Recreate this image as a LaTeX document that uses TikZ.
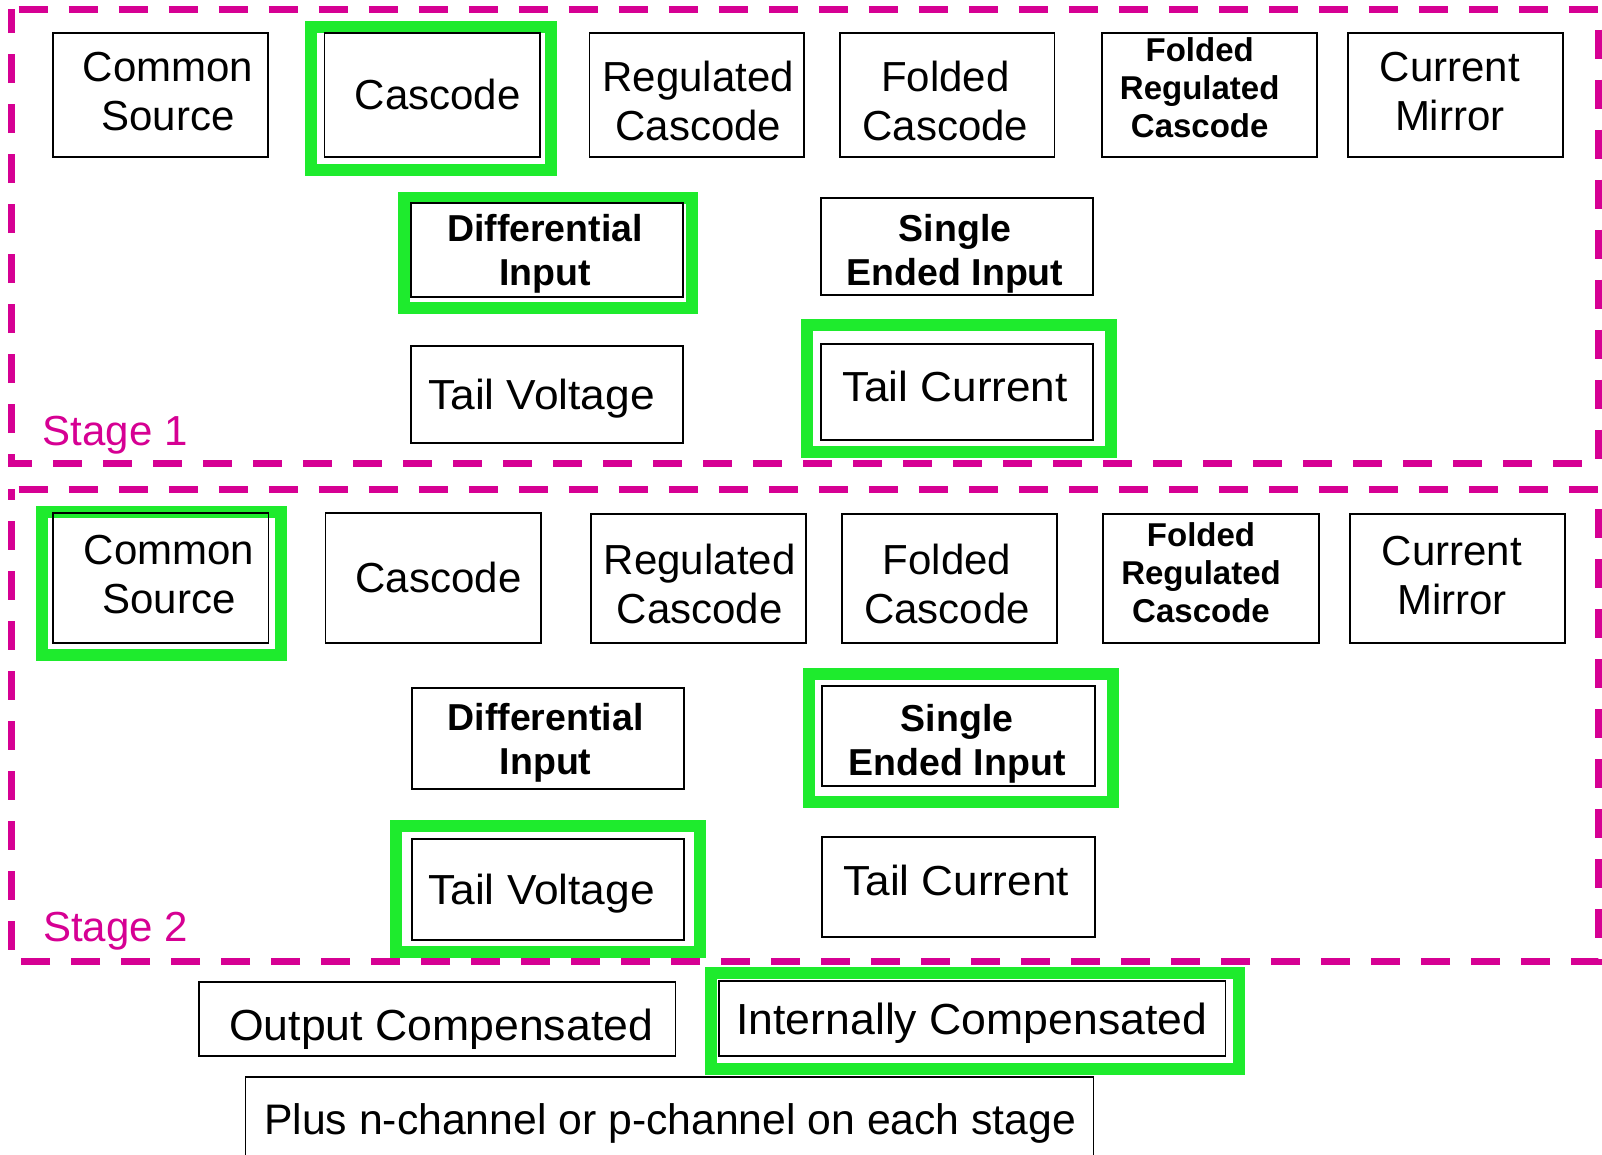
\documentclass[tikz,border=0pt]{standalone}
\usepackage{fontspec}
\setmainfont{Liberation Sans}
\definecolor{stagemag}{RGB}{214,0,147}
\definecolor{pickgreen}{RGB}{30,235,45}

\tikzset{
  optbox/.style={draw=black, line width=1.8pt, inner sep=0pt},
  regtxt/.style={align=center, inner sep=0pt, font=\fontsize{42}{49}\selectfont},
  widetxt/.style={align=center, inner sep=0pt, font=\fontsize{43.5}{50}\selectfont},
  notetxt/.style={align=center, inner sep=0pt, font=\fontsize{42.7}{50}\selectfont},
  boldtxt/.style={align=center, inner sep=0pt, font=\fontsize{37.5}{44}\selectfont\bfseries},
  smalltxt/.style={align=center, inner sep=0pt, font=\fontsize{33}{38}\selectfont\bfseries},
  stagebox/.style={draw=stagemag, line width=7pt, dash pattern=on 29pt off 21pt, dash phase=43pt},
  stagelbl/.style={text=stagemag, anchor=base west, inner sep=0pt, font=\fontsize{42}{48}\selectfont},
  pick/.style={draw=pickgreen, line width=12pt},
}
% slightly widened single-line labels
\newcommand\wideline[2]{\scalebox{#1}[1]{#2}}

\begin{document}
\begin{tikzpicture}[x=1pt, y=-1pt]
\useasboundingbox (0,0) rectangle (1602,1154);

% chosen options
\draw[pick] (311,26.7) rectangle (551,169.7);
\draw[pick] (404,197.5) rectangle (692.3,308.3);
\draw[pick] (807.3,325.3) rectangle (1110.7,452.3);
\draw[pick] (41.7,511.7) rectangle (281,655.3);
\draw[pick] (809.3,674.3) rectangle (1113.3,801.7);
\draw[pick] (396,826.3) rectangle (699.6,952);
\draw[pick] (711,973.3) rectangle (1239,1069);

% stage frames
\draw[stagebox] (11.5,9) -- (1598,9) -- (1598,463) -- (11.5,463) -- cycle;
\draw[stagebox] (11.5,489.3) -- (1598.5,489.3) -- (1598.5,961) -- (11.5,961) -- cycle;
\node[stagelbl] (lbl1) at (42.5,445) {Stage 1};
\node[stagelbl] (lbl2) at (43,941.7) {Stage 2};

% stage 1
\node[optbox, minimum width=215pt, minimum height=124pt] (s1cs) at (160.5,95) {};
\node[regtxt] (s1cs-t) at (168,91.7) {Common\\Source};
\node[optbox, minimum width=215.5pt, minimum height=124pt] (s1cc) at (432.3,95) {};
\node[regtxt] (s1cc-t) at (437.6,94) {Cascode};
\node[optbox, minimum width=214.5pt, minimum height=124pt] (s1rc) at (696.8,95) {};
\node[regtxt] (s1rc-t) at (698.2,100.5) {Regulated\\Cascode};
\node[optbox, minimum width=214.5pt, minimum height=124pt] (s1fc) at (947.3,95) {};
\node[regtxt] (s1fc-t) at (945.3,100.5) {Folded\\Cascode};
\node[optbox, minimum width=215pt, minimum height=124pt] (s1frc) at (1209.2,95) {};
\node[smalltxt] (s1frc-t) at (1199.7,87.5) {Folded\\Regulated\\Cascode};
\node[optbox, minimum width=215pt, minimum height=124pt] (s1cm) at (1455.3,95) {};
\node[regtxt] (s1cm-t) at (1449.8,92) {Current\\Mirror};

\node[optbox, minimum width=272.7pt, minimum height=94.3pt] (s1di) at (547,249.9) {};
\node[boldtxt] (s1di-t) at (545,254) {Differential\\Input};
\node[optbox, minimum width=272.6pt, minimum height=96.7pt] (s1se) at (957,246.7) {};
\node[boldtxt] (s1se-t) at (955,253.3) {Single\\Ended Input};

\node[optbox, minimum width=272.4pt, minimum height=96.7pt] (s1tv) at (546.8,394.3) {};
\node[regtxt] (s1tv-t) at (541.5,398.2) {\wideline{1.055}{Tail Voltage}};
\node[optbox, minimum width=272.6pt, minimum height=96.3pt] (s1tc) at (957,391.8) {};
\node[regtxt] (s1tc-t) at (955,386.2) {\wideline{1.05}{Tail Current}};

% stage 2
\node[optbox, minimum width=215.4pt, minimum height=129.7pt] (s2cs) at (160.7,578.2) {};
\node[regtxt] (s2cs-t) at (169,575) {Common\\Source};
\node[optbox, minimum width=215.3pt, minimum height=129.7pt] (s2cc) at (433.2,578.2) {};
\node[regtxt] (s2cc-t) at (438.5,577.5) {Cascode};
\node[optbox, minimum width=215.3pt, minimum height=129.3pt] (s2rc) at (698.3,578.7) {};
\node[regtxt] (s2rc-t) at (699.7,584.2) {Regulated\\Cascode};
\node[optbox, minimum width=215pt, minimum height=129.3pt] (s2fc) at (949.2,578.7) {};
\node[regtxt] (s2fc-t) at (947,584.2) {Folded\\Cascode};
\node[optbox, minimum width=215.4pt, minimum height=129.3pt] (s2frc) at (1211,578.7) {};
\node[smalltxt] (s2frc-t) at (1201,572.5) {Folded\\Regulated\\Cascode};
\node[optbox, minimum width=215.3pt, minimum height=129.3pt] (s2cm) at (1457.7,578.7) {};
\node[regtxt] (s2cm-t) at (1452,575.8) {Current\\Mirror};

\node[optbox, minimum width=272.5pt, minimum height=101pt] (s2di) at (548,738.8) {};
\node[boldtxt] (s2di-t) at (545.6,743.2) {Differential\\Input};
\node[optbox, minimum width=273.3pt, minimum height=100.3pt] (s2se) at (958.3,735.8) {};
\node[boldtxt] (s2se-t) at (957.2,743.7) {Single\\Ended Input};

\node[optbox, minimum width=272.3pt, minimum height=100.7pt] (s2tv) at (547.8,889.7) {};
\node[regtxt] (s2tv-t) at (541.6,894) {\wideline{1.055}{Tail Voltage}};
\node[optbox, minimum width=273.3pt, minimum height=100pt] (s2tc) at (958.3,887.3) {};
\node[regtxt] (s2tc-t) at (956.2,880.8) {\wideline{1.05}{Tail Current}};

% compensation and device type
\node[optbox, minimum width=476.4pt, minimum height=74pt] (oc) at (437.2,1018.7) {};
\node[widetxt] (oc-t) at (441.2,1029.5) {\wideline{1.025}{Output Compensated}};
\node[optbox, minimum width=506.4pt, minimum height=74.4pt] (ic) at (972.2,1018.5) {};
\node[widetxt] (ic-t) at (971.8,1022.8) {\wideline{1.025}{Internally Compensated}};
\node[optbox, minimum width=848.1pt, minimum height=93.3pt] (pn) at (669.5,1123.4) {};
\node[notetxt] (pn-t) at (670.2,1123.7) {Plus n-channel or p-channel on each stage};
\end{tikzpicture}
\end{document}
